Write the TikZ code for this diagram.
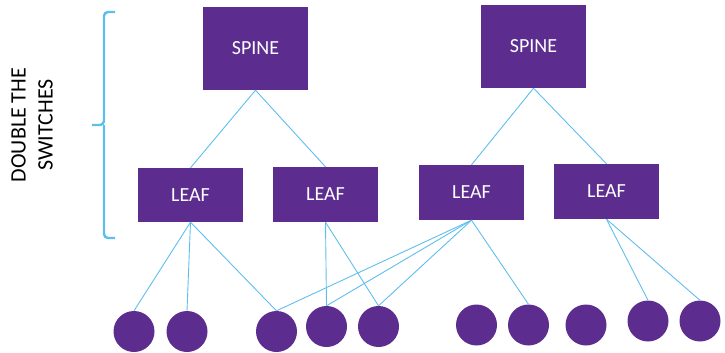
\documentclass[tikz,border=0pt]{standalone}
\usepackage{fontspec}
\setmainfont{Carlito}
\definecolor{pp}{RGB}{92,45,142}
\definecolor{lb}{RGB}{94,190,236}
\begin{document}
\begin{tikzpicture}[x=1pt,y=-1pt,
  sw/.style={fill=pp,draw=none,text=white,font=\fontsize{20}{24}\selectfont},
  host/.style={circle,fill=pp,draw=none,minimum size=41pt,inner sep=0pt},
  ln/.style={draw=lb,line width=0.9pt}]
\useasboundingbox (0,0) rectangle (725,353);
\node[sw,minimum width=105pt,minimum height=83pt] (s1) at (255.5,48.5) {SPINE};
\node[sw,minimum width=105pt,minimum height=83pt] (s2) at (533.5,46.5) {SPINE};
\node[sw,minimum width=105pt,minimum height=54pt] (l1) at (190.5,195) {LEAF};
\node[sw,minimum width=105pt,minimum height=55pt] (l2) at (325.5,194.5) {LEAF};
\node[sw,minimum width=105pt,minimum height=55pt] (l3) at (471.5,192.5) {LEAF};
\node[sw,minimum width=105pt,minimum height=55pt] (l4) at (606.5,191.5) {LEAF};
\node[host] (h1) at (134,331.5) {};
\node[host] (h2) at (187,331.5) {};
\node[host] (h3) at (276.5,331.5) {};
\node[host] (h4) at (326.5,326.5) {};
\node[host] (h5) at (378.5,326.5) {};
\node[host] (h6) at (476.5,325) {};
\node[host] (h7) at (528.5,325) {};
\node[host] (h8) at (586,325) {};
\node[host] (h9) at (648,321) {};
\node[host] (h10) at (700,321) {};
\draw[ln] (s1.south) -- (l1.north);
\draw[ln] (s1.south) -- (l2.north);
\draw[ln] (s2.south) -- (l3.north);
\draw[ln] (s2.south) -- (l4.north);
\draw[ln] (l1.south) -- (h1.north);
\draw[ln] (l1.south) -- (h2.north);
\draw[ln] (l1.south) -- (h3.north);
\draw[ln] (l2.south) -- (h4.north);
\draw[ln] (l2.south) -- (h5.north);
\draw[ln] (l3.south) -- (h3.north);
\draw[ln] (l3.south) -- (h4.north);
\draw[ln] (l3.south) -- (h5.north);
\draw[ln] (l3.south) -- (h7.north);
\draw[ln] (l4.south) -- (h9.north);
\draw[ln] (l4.south) -- (h10.north);
\coordinate (bt) at (115,12);
\coordinate (bm) at (92,125);
\coordinate (bb) at (115,238);
\draw[draw=lb,line width=2.4pt,rounded corners=4pt] (bt) -- (104,12) -- (104,125) -- (bm);
\draw[draw=lb,line width=2.4pt,rounded corners=4pt] (bb) -- (104,238) -- (104,125);
\node[rotate=90,align=center,font=\fontsize{22}{27}\selectfont] (lbl) at (32,125) {DOUBLE THE\\SWITCHES};
\end{tikzpicture}
\end{document}
